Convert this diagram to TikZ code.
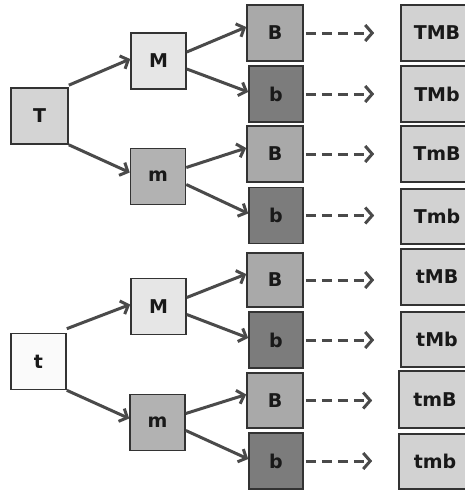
\documentclass[tikz,border=0pt]{standalone}
\usepackage{fontspec}
\setmainfont{DejaVu Sans}
\usetikzlibrary{arrows.meta,calc}
\definecolor{bordc}{HTML}{333333}
\definecolor{arrc}{HTML}{4A4A4A}
\definecolor{fT}{HTML}{D4D4D4}
\definecolor{ft}{HTML}{FAFAFA}
\definecolor{fM}{HTML}{E6E6E6}
\definecolor{fm}{HTML}{B2B2B2}
\definecolor{fB}{HTML}{A9A9A9}
\definecolor{fb}{HTML}{7C7C7C}
\definecolor{fR}{HTML}{D2D2D2}
\begin{document}
\begin{tikzpicture}[x=1pt,y=-1pt,
  box/.style={draw=bordc,line width=1.6pt,inner sep=0pt,minimum width=55pt,minimum height=56pt,
    font=\fontsize{19}{21}\selectfont\bfseries,text=black!90},
  res/.style={box,fill=fR,minimum width=72pt},
  arr/.style={draw=arrc,line width=3pt,-{Straight Barb[length=6.5pt,width=14pt,line width=3pt]}},
  darr/.style={draw=arrc,line width=3pt,dash pattern=on 10pt off 6pt,
    -{Straight Barb[length=7pt,width=16pt,line width=3pt,sep=0pt]}}]
\clip (0,0) rectangle (465,490);
\useasboundingbox (0,0) rectangle (465,490);
% level 1
\node[box,fill=fT,minimum width=57pt] (T) at (39.5,116) {T};
\node[box,fill=ft] (t) at (38.5,361.5) {t};
% level 2
\node[box,fill=fM] (M1) at (158.5,61) {M};
\node[box,fill=fm] (m1) at (158,176.5) {m};
\node[box,fill=fM] (M2) at (158.5,306.5) {M};
\node[box,fill=fm] (m2) at (157.5,422.5) {m};
% level 3
\node[box,fill=fB,minimum width=56pt] (B1) at (275,33) {B};
\node[box,fill=fb,minimum width=54pt] (b1) at (276,94) {b};
\node[box,fill=fB,minimum width=56pt] (B2) at (275,154) {B};
\node[box,fill=fb,minimum width=54pt] (b2) at (276,215.5) {b};
\node[box,fill=fB,minimum width=56pt,minimum height=54pt] (B3) at (275,280) {B};
\node[box,fill=fb,minimum width=54pt] (b3) at (276,340) {b};
\node[box,fill=fB,minimum width=56pt,minimum height=55pt] (B4) at (275,400.5) {B};
\node[box,fill=fb,minimum width=54pt] (b4) at (276,461) {b};
% results
\node[res] (R1) at (437,33) {TMB};
\node[res] (R2) at (437,94) {TMb};
\node[res] (R3) at (437,154) {TmB};
\node[res,minimum height=55pt] (R4) at (437,216.5) {Tmb};
\node[res] (R5) at (437,277) {tMB};
\node[res,minimum height=55pt] (R6) at (437,339.5) {tMb};
\node[res,minimum height=57pt] (R7) at (435,399.5) {tmB};
\node[res,minimum height=55pt] (R8) at (435,461.5) {tmb};
% arrows level 1 -> 2
\draw[arr] ([yshift=2pt]T.north east) -- ([yshift=2pt]M1.west);
\draw[arr] (T.south east) -- ([yshift=4pt]m1.west);
\draw[arr] ([yshift=4pt]t.north east) -- ([yshift=2pt]M2.west);
\draw[arr] (t.south east) -- ([yshift=4pt]m2.west);
% arrows level 2 -> 3
\foreach \p/\u/\l in {M1/B1/b1, m1/B2/b2, M2/B3/b3, m2/B4/b4}{
  \draw[arr] ([yshift=9pt]\p.east) -- ([yshift=6pt]\u.west);
  \draw[arr] ([yshift=-8pt]\p.east) -- ([yshift=2pt]\l.west);
}
% dashed arrows
\foreach \s/\r in {B1/R1, b1/R2, B2/R3, b2/R4, B3/R5, b3/R6, B4/R7, b4/R8}{
  \draw[darr] ([xshift=2pt]\s.east) -- ($(\s.east -| \r.west)+(-26,0)$);
}
\end{tikzpicture}
\end{document}
